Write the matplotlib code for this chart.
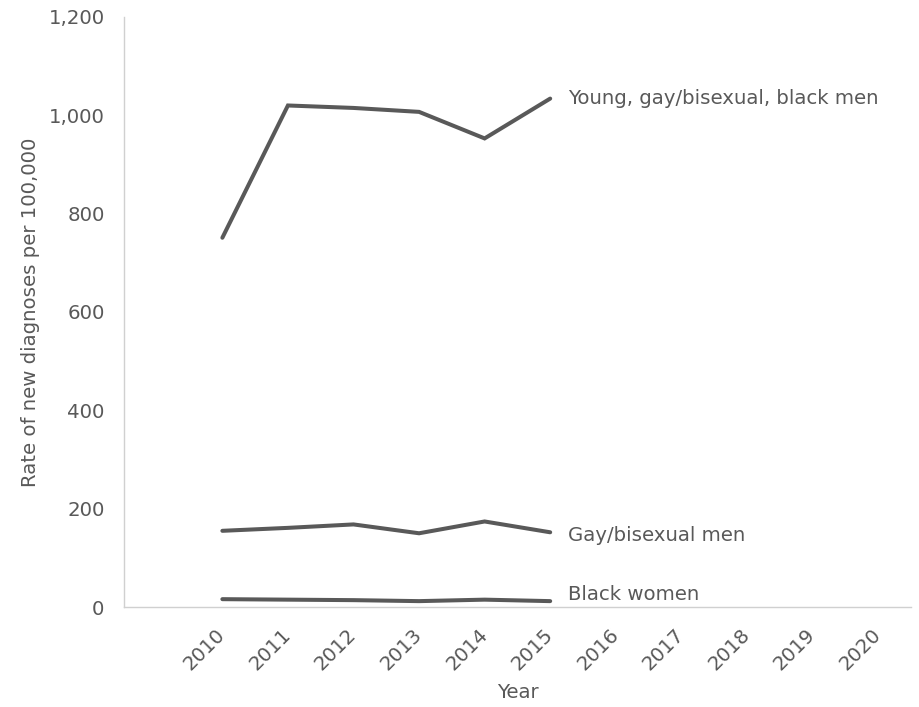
import matplotlib.pyplot as plt

# HIV diagnosis rates per 100,000
years = ["2010", "2011", "2012", "2013", "2014", "2015",
         "2016", "2017", "2018", "2019", "2020"]
data_years = years[:6]
young_gay_black_men = [751, 1020, 1015, 1007, 953, 1034]
gay_bisexual_men = [155, 161, 168, 150, 174, 152]
black_women = [16, 15, 14, 12, 15, 12]
series_names = ["Young, gay/bisexual, black men", "Gay/bisexual men", "Black women"]

grey = "#595959"
fs = 14.2
plt.rcParams["font.family"] = ["DejaVu Sans"]

fig = plt.figure(figsize=(9.2, 7.07), dpi=100)
ax = fig.add_axes([0.1348, 0.1414, 0.8552, 0.8346])

x = list(range(len(data_years)))
for vals, name, dy in zip([young_gay_black_men, gay_bisexual_men, black_women],
                          series_names, [0, -2, 5]):
    ax.plot(x, vals, color=grey, lw=2.9, solid_capstyle="round", solid_joinstyle="miter")
    ax.annotate(name, (x[-1], vals[-1]), xytext=(13, dy), textcoords="offset points",
                ha="left", va="center", color=grey, fontsize=fs)

ax.set_xlim(-1.5, 10.5)
ax.set_ylim(0, 1200)
ax.set_yticks(range(0, 1201, 200))
ax.set_yticklabels([f"{v:,}" for v in range(0, 1201, 200)])
ax.set_xticks(range(len(years)))
ax.set_xticklabels(years, rotation=45, ha="right", va="center", rotation_mode="anchor")

ax.tick_params(length=0, colors=grey, labelsize=fs)
ax.tick_params(axis="y", pad=14)
ax.tick_params(axis="x", pad=18)
for side in ["top", "right"]:
    ax.spines[side].set_visible(False)
for side in ["left", "bottom"]:
    ax.spines[side].set_color("#d0d0d0")
    ax.spines[side].set_linewidth(1)

ax.set_ylabel("Rate of new diagnoses per 100,000", color=grey, fontsize=fs, labelpad=6)
ax.set_xlabel("Year", color=grey, fontsize=fs, labelpad=6)

plt.savefig("out.png", dpi=100)
